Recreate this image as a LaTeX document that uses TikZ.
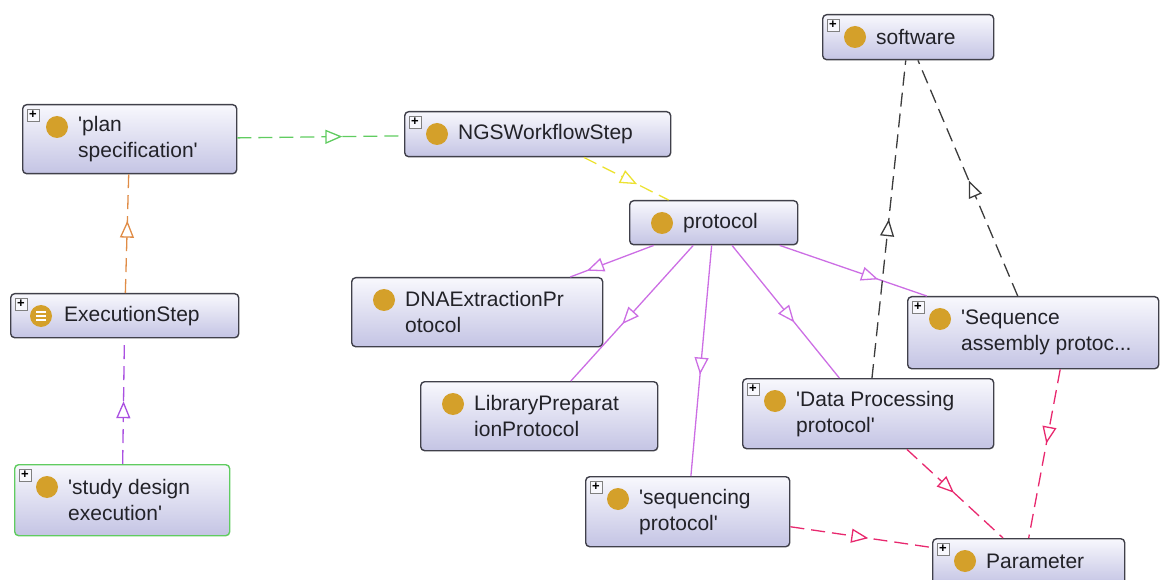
\documentclass[tikz,border=0pt]{standalone}
\usepackage{fontspec}
\setmainfont{Liberation Sans}
\usetikzlibrary{arrows.meta,decorations.markings}
\definecolor{boxtop}{RGB}{248,248,253}
\definecolor{boxbot}{RGB}{196,196,228}
\definecolor{boxline}{RGB}{64,64,74}
\definecolor{gold}{RGB}{212,160,42}
\definecolor{txt}{RGB}{34,34,40}
\definecolor{greenline}{RGB}{96,204,96}
\definecolor{yellowline}{RGB}{236,226,50}
\definecolor{orangeline}{RGB}{224,140,70}
\definecolor{violetline}{RGB}{170,80,225}
\definecolor{purpleline}{RGB}{204,110,228}
\definecolor{grayline}{RGB}{60,60,60}
\definecolor{pinkline}{RGB}{232,40,110}
\newcommand{\sq}{\textquotesingle}
\begin{document}
\begin{tikzpicture}[x=1pt, y=-1pt,
  cls/.style={draw=boxline, line width=1.4pt, rounded corners=4pt, top color=boxtop, bottom color=boxbot, anchor=north west, inner sep=0pt},
  lbl/.style={anchor=west, align=left, inner sep=0pt, text=txt, font=\fontsize{21}{26}\selectfont},
  dot/.style={circle, fill=gold, minimum size=22pt, inner sep=0pt},
  plus/.style={draw=gray, fill=boxtop, minimum size=12pt, inner sep=0pt, font=\bfseries\fontsize{13}{13}\selectfont},
  link/.style={line width=1.3pt},
  dsh/.style={dash pattern=on 14pt off 7pt},
  midtri/.style={postaction={decorate}, decoration={markings, mark=at position #1 with {\arrow{Triangle[length=17pt, width=14pt, fill=white, line width=1.3pt]}}}}]
\useasboundingbox (0,0) rectangle (1160,580);

\node[cls, minimum width=214pt, minimum height=69pt] (plan) at (22,104) {};
\node[lbl] (plan-t) at ([shift={(56,0)}]plan.west) {\sq plan\\specification\sq};
\node[dot] (plan-i) at ([shift={(35,23)}]plan.north west) {};
\node[plus] (plan-p) at ([shift={(11,11)}]plan.north west) {+};

\node[cls, minimum width=266pt, minimum height=45pt] (ngs) at (404,111) {};
\node[lbl] (ngs-t) at ([shift={(54,0)}]ngs.west) {NGSWorkflowStep};
\node[dot] (ngs-i) at ([shift={(33,23)}]ngs.north west) {};
\node[plus] (ngs-p) at ([shift={(11,11)}]ngs.north west) {+};

\node[cls, minimum width=171pt, minimum height=45pt] (software) at (822,14) {};
\node[lbl] (software-t) at ([shift={(54,0)}]software.west) {software};
\node[dot] (software-i) at ([shift={(33,23)}]software.north west) {};
\node[plus] (software-p) at ([shift={(11,11)}]software.north west) {+};

\node[cls, minimum width=168pt, minimum height=44pt] (protocol) at (629,200) {};
\node[lbl] (protocol-t) at ([shift={(54,0)}]protocol.west) {protocol};
\node[dot] (protocol-i) at ([shift={(33,23)}]protocol.north west) {};

\node[cls, minimum width=228pt, minimum height=44pt] (exec) at (10,293) {};
\node[lbl] (exec-t) at ([shift={(54,0)}]exec.west) {ExecutionStep};
\node[dot] (exec-i) at ([shift={(31,23)}]exec.north west) {};
\node[plus] (exec-p) at ([shift={(11,11)}]exec.north west) {+};
\draw[white, line width=1.4pt] ([shift={(-5,-4)}]exec-i.center) -- ([shift={(5,-4)}]exec-i.center);
\draw[white, line width=1.4pt] ([shift={(-5,0)}]exec-i.center) -- ([shift={(5,0)}]exec-i.center);
\draw[white, line width=1.4pt] ([shift={(-5,4)}]exec-i.center) -- ([shift={(5,4)}]exec-i.center);

\node[cls, minimum width=251pt, minimum height=69pt] (dna) at (351,277) {};
\node[lbl] (dna-t) at ([shift={(54,0)}]dna.west) {DNAExtractionPr\\otocol};
\node[dot] (dna-i) at ([shift={(33,23)}]dna.north west) {};

\node[cls, minimum width=251pt, minimum height=72pt] (sa) at (907,296) {};
\node[lbl] (sa-t) at ([shift={(54,0)}]sa.west) {\sq Sequence\\assembly protoc...};
\node[dot] (sa-i) at ([shift={(33,23)}]sa.north west) {};
\node[plus] (sa-p) at ([shift={(11,11)}]sa.north west) {+};

\node[cls, minimum width=237pt, minimum height=69pt] (lib) at (420,381) {};
\node[lbl] (lib-t) at ([shift={(54,0)}]lib.west) {LibraryPreparat\\ionProtocol};
\node[dot] (lib-i) at ([shift={(33,23)}]lib.north west) {};

\node[cls, minimum width=251pt, minimum height=70pt] (dp) at (742,378) {};
\node[lbl] (dp-t) at ([shift={(54,0)}]dp.west) {\sq Data Processing\\protocol\sq};
\node[dot] (dp-i) at ([shift={(33,23)}]dp.north west) {};
\node[plus] (dp-p) at ([shift={(11,11)}]dp.north west) {+};

\node[cls, draw=greenline, minimum width=215pt, minimum height=71pt] (study) at (14,464) {};
\node[lbl] (study-t) at ([shift={(54,0)}]study.west) {\sq study design\\execution\sq};
\node[dot] (study-i) at ([shift={(33,23)}]study.north west) {};
\node[plus] (study-p) at ([shift={(11,11)}]study.north west) {+};

\node[cls, minimum width=204pt, minimum height=70pt] (seq) at (585,476) {};
\node[lbl] (seq-t) at ([shift={(54,0)}]seq.west) {\sq sequencing\\protocol\sq};
\node[dot] (seq-i) at ([shift={(33,23)}]seq.north west) {};
\node[plus] (seq-p) at ([shift={(11,11)}]seq.north west) {+};

\node[cls, minimum width=192pt, minimum height=46pt] (param) at (932,538) {};
\node[lbl] (param-t) at ([shift={(54,0)}]param.west) {Parameter};
\node[dot] (param-i) at ([shift={(33,23)}]param.north west) {};
\node[plus] (param-p) at ([shift={(11,11)}]param.north west) {+};

\draw[link, greenline, dsh, midtri=0.63] (plan) -- (ngs);
\draw[link, yellowline, dsh, midtri=0.63] (ngs) -- (protocol);
\draw[link, orangeline, dsh, midtri=0.61] (exec) -- (plan);
\draw[link, violetline, dsh, midtri=0.5] (study) -- (exec);
\draw[link, purpleline, midtri=0.8] (protocol) -- (dna);
\draw[link, purpleline, midtri=0.58] (protocol) -- (lib);
\draw[link, purpleline, midtri=0.56] (protocol) -- (seq);
\draw[link, purpleline, midtri=0.58] (protocol) -- (dp);
\draw[link, purpleline, midtri=0.67] (protocol) -- (sa);
\draw[link, grayline, dsh, midtri=0.5] (dp) -- (software);
\draw[link, grayline, dsh, midtri=0.49] (sa) -- (software);
\draw[link, pinkline, dsh, midtri=0.49] (dp) -- (param);
\draw[link, pinkline, dsh, midtri=0.44] ([xshift=27pt]sa.south) -- (param.north);
\draw[link, pinkline, dsh, midtri=0.55] (seq) -- (param);
\end{tikzpicture}
\end{document}
